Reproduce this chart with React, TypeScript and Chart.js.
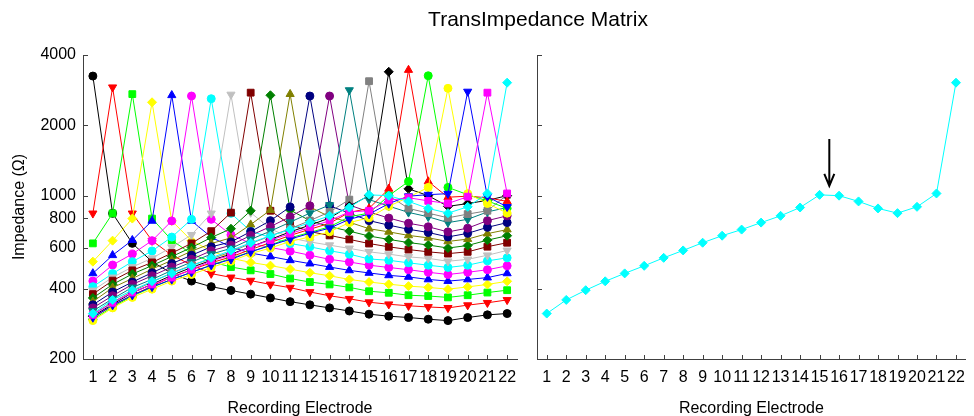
import React, { useEffect, useRef } from 'react';
import { Chart, registerables } from 'chart.js';

Chart.register(...registerables);

const ELECTRODES = [1, 2, 3, 4, 5, 6, 7, 8, 9, 10, 11, 12, 13, 14, 15, 16, 17, 18, 19, 20, 21, 22];
const Y_TICKS = [200, 400, 600, 800, 1000, 2000, 4000];
const TITLE = 'TransImpedance Matrix';
const X_TITLE = 'Recording Electrode';
const Y_TITLE = 'Impedance (\u03A9)';

// One series per stimulating electrode (impedance in ohms at each recording electrode)
const S1 = [3250, 840, 625, 522, 465, 431, 408, 393, 379, 365, 352, 341, 331, 321, 311, 305, 301, 296, 292, 301, 309, 313];
const S2 = [840, 2910, 840, 642, 556, 505, 464, 447, 433, 417, 404, 387, 373, 362, 350, 343, 338, 334, 331, 340, 348, 358];
const S3 = [625, 840, 2720, 798, 645, 563, 522, 495, 479, 462, 442, 427, 417, 405, 390, 384, 375, 372, 367, 375, 385, 394];
const S4 = [522, 642, 798, 2510, 780, 642, 580, 540, 518, 502, 485, 468, 454, 438, 427, 418, 410, 405, 398, 407, 417, 430];
const S5 = [465, 556, 645, 780, 2690, 780, 665, 602, 568, 549, 529, 512, 495, 479, 467, 456, 449, 438, 431, 438, 446, 465];
const S6 = [431, 505, 563, 642, 780, 2670, 792, 680, 625, 600, 579, 556, 534, 520, 504, 493, 482, 470, 460, 470, 482, 501];
const S7 = [408, 464, 522, 580, 665, 792, 2600, 840, 705, 662, 624, 604, 581, 562, 536, 529, 516, 504, 493, 504, 526, 542];
const S8 = [393, 447, 495, 540, 602, 680, 840, 2710, 846, 722, 660, 634, 614, 595, 575, 562, 547, 539, 524, 534, 556, 583];
const S9 = [379, 433, 479, 518, 568, 625, 705, 846, 2760, 862, 752, 702, 676, 650, 624, 604, 588, 575, 565, 575, 605, 629];
const S10 = [365, 417, 462, 502, 549, 600, 662, 722, 862, 2690, 868, 782, 737, 705, 672, 650, 630, 615, 597, 612, 645, 674];
const S11 = [352, 404, 442, 485, 529, 579, 624, 660, 752, 868, 2720, 895, 812, 770, 722, 700, 676, 660, 637, 652, 688, 716];
const S12 = [341, 387, 427, 468, 512, 556, 604, 634, 702, 782, 895, 2670, 905, 842, 782, 748, 718, 696, 666, 690, 732, 767];
const S13 = [331, 373, 417, 454, 495, 534, 581, 614, 676, 737, 812, 905, 2670, 912, 852, 802, 762, 736, 700, 726, 782, 820];
const S14 = [321, 362, 405, 438, 479, 520, 562, 595, 650, 705, 770, 842, 912, 2830, 962, 902, 848, 812, 767, 792, 852, 890];
const S15 = [311, 350, 390, 427, 467, 504, 536, 575, 624, 672, 722, 782, 852, 962, 3090, 1000, 882, 842, 804, 834, 862, 1008];
const S16 = [305, 343, 384, 418, 456, 493, 529, 562, 604, 650, 700, 748, 802, 902, 1000, 3390, 1070, 1000, 900, 925, 955, 1000];
const S17 = [301, 338, 375, 410, 449, 482, 516, 547, 588, 630, 676, 718, 762, 848, 882, 1070, 3450, 1150, 985, 995, 980, 945];
const S18 = [296, 334, 372, 405, 438, 470, 504, 539, 575, 615, 660, 696, 736, 812, 842, 1000, 1150, 3260, 1085, 1010, 950, 882];
const S19 = [292, 331, 367, 398, 431, 460, 493, 524, 565, 597, 637, 666, 700, 767, 804, 900, 985, 1085, 2880, 1020, 926, 842];
const S20 = [301, 340, 375, 407, 438, 470, 504, 534, 575, 612, 652, 690, 726, 792, 834, 925, 995, 1010, 1020, 2790, 990, 896];
const S21 = [309, 348, 385, 417, 446, 482, 526, 556, 605, 645, 688, 732, 782, 852, 862, 955, 980, 950, 926, 990, 2760, 1022];
const S22 = [313, 358, 394, 430, 465, 501, 542, 583, 629, 674, 716, 767, 820, 890, 1008, 1000, 945, 882, 842, 896, 1022, 3045];

const SERIES = [S1, S2, S3, S4, S5, S6, S7, S8, S9, S10, S11, S12, S13, S14, S15, S16, S17, S18, S19, S20, S21, S22];
const HIGHLIGHT = S22;

const COLORS = [
  '#000000', '#ff0000', '#00ff00', '#ffff00', '#0000ff', '#ff00ff', '#00ffff', '#c0c0c0',
  '#800000', '#008000', '#808000', '#000080', '#800080', '#008080', '#808080', '#000000',
  '#ff0000', '#00ff00', '#ffff00', '#0000ff', '#ff00ff', '#00ffff',
];
const MARKERS = [
  'circle', 'down', 'rect', 'rectRot', 'triangle', 'circle', 'circle', 'down',
  'rect', 'rectRot', 'triangle', 'circle', 'circle', 'down', 'rect', 'rectRot',
  'triangle', 'circle', 'circle', 'down', 'rect', 'rectRot',
];

// arrow annotation on right panel (data coords)
const ARROW_X = 15.5;
const ARROW_TOP = 1746;
const ARROW_TIP = 1102;

const FONT = '"Liberation Sans", Arial, sans-serif';
const AXIS_COLOR = '#404040';

function markerProps(kind: string) {
  switch (kind) {
    case 'down':
      return { pointStyle: 'triangle', pointRotation: 180, pointRadius: 4.7 };
    case 'triangle':
      return { pointStyle: 'triangle', pointRotation: 0, pointRadius: 4.7 };
    case 'rect':
      return { pointStyle: 'rect', pointRotation: 0, pointRadius: 4.8 };
    case 'rectRot':
      return { pointStyle: 'rectRot', pointRotation: 0, pointRadius: 4.5 };
    default:
      return { pointStyle: 'circle', pointRotation: 0, pointRadius: 4 };
  }
}

function makeDataset(values: number[], idx: number, total: number) {
  const c = COLORS[idx];
  return {
    data: ELECTRODES.map((e, i) => ({ x: e, y: values[i] })),
    borderColor: c,
    backgroundColor: c,
    borderWidth: 1,
    pointBackgroundColor: c,
    pointBorderColor: c,
    pointBorderWidth: 1,
    tension: 0,
    fill: false,
    order: total - idx,
    ...markerProps(MARKERS[idx]),
  };
}

function decorPlugin(opts: { yTitle: boolean; title: boolean; arrow: boolean }) {
  return {
    id: 'decor',
    afterDraw(chart: any) {
      const { ctx, chartArea: a, scales } = chart;
      const xs = scales.x;
      const ys = scales.y;
      ctx.save();
      ctx.strokeStyle = AXIS_COLOR;
      ctx.lineWidth = 1;
      ctx.beginPath();
      for (const v of Y_TICKS) {
        const y = Math.round(ys.getPixelForValue(v)) + 0.5;
        ctx.moveTo(a.left, y);
        ctx.lineTo(a.left + 5, y);
      }
      for (const e of ELECTRODES) {
        const x = Math.round(xs.getPixelForValue(e)) + 0.5;
        ctx.moveTo(x, a.bottom);
        ctx.lineTo(x, a.bottom - 4);
      }
      ctx.stroke();

      ctx.fillStyle = '#000';
      ctx.font = `16px ${FONT}`;
      ctx.textAlign = 'center';
      ctx.textBaseline = 'alphabetic';
      ctx.fillText(X_TITLE, (a.left + a.right) / 2, 413);

      if (opts.yTitle) {
        ctx.save();
        ctx.translate(23.5, (a.top + a.bottom) / 2);
        ctx.rotate(-Math.PI / 2);
        ctx.fillText(Y_TITLE, 0, 0);
        ctx.restore();
      }
      if (opts.title) {
        ctx.font = `21px ${FONT}`;
        ctx.fillText(TITLE, 538, 26);
      }
      if (opts.arrow) {
        const x = xs.getPixelForValue(ARROW_X);
        const y0 = ys.getPixelForValue(ARROW_TOP);
        const y1 = ys.getPixelForValue(ARROW_TIP);
        ctx.strokeStyle = '#000';
        ctx.lineWidth = 2;
        ctx.beginPath();
        ctx.moveTo(x, y0);
        ctx.lineTo(x, y1);
        ctx.moveTo(x - 5, y1 - 12);
        ctx.lineTo(x, y1);
        ctx.lineTo(x + 5, y1 - 12);
        ctx.stroke();
      }
      ctx.restore();
    },
  };
}

function makeOptions(showYLabels: boolean, yWidth: number, padRight: number) {
  return {
    responsive: false,
    maintainAspectRatio: false,
    animation: false,
    events: [],
    devicePixelRatio: 1,
    layout: { padding: { top: 55, right: padRight, bottom: 0, left: 0 } },
    plugins: { legend: { display: false }, tooltip: { enabled: false }, title: { display: false } },
    scales: {
      x: {
        type: 'linear',
        min: 0.5,
        max: 22.5,
        afterBuildTicks: (scale: any) => {
          scale.ticks = ELECTRODES.map((v) => ({ value: v }));
        },
        afterFit: (scale: any) => {
          scale.height = 57;
        },
        ticks: {
          autoSkip: false,
          maxRotation: 0,
          minRotation: 0,
          padding: 9,
          color: '#000',
          font: { family: FONT, size: 16 },
          callback: (v: any) => String(v),
        },
        grid: { display: true, drawOnChartArea: false, drawTicks: false },
        border: { display: true, color: AXIS_COLOR, width: 1 },
      },
      y: {
        type: 'logarithmic',
        min: 200,
        max: 4000,
        afterBuildTicks: (scale: any) => {
          scale.ticks = Y_TICKS.map((v) => ({ value: v }));
        },
        afterFit: (scale: any) => {
          scale.width = yWidth;
        },
        ticks: {
          display: showYLabels,
          autoSkip: false,
          padding: 7,
          color: '#000',
          font: { family: FONT, size: 16 },
          callback: (v: any) => String(v),
        },
        grid: { display: true, drawOnChartArea: false, drawTicks: false },
        border: { display: true, color: AXIS_COLOR, width: 1 },
      },
    },
  };
}

export default function App() {
  const leftRef = useRef<HTMLCanvasElement>(null);
  const rightRef = useRef<HTMLCanvasElement>(null);

  useEffect(() => {
    const charts: Chart[] = [];
    if (leftRef.current) {
      charts.push(
        new Chart(leftRef.current, {
          type: 'line',
          data: { datasets: SERIES.map((s, i) => makeDataset(s, i, SERIES.length)) as any },
          options: makeOptions(true, 83, 457) as any,
          plugins: [decorPlugin({ yTitle: true, title: true, arrow: false })],
        })
      );
    }
    if (rightRef.current) {
      charts.push(
        new Chart(rightRef.current, {
          type: 'line',
          data: { datasets: [makeDataset(HIGHLIGHT, 21, 22)] as any },
          options: makeOptions(false, 537, 2) as any,
          plugins: [decorPlugin({ yTitle: false, title: false, arrow: true })],
        })
      );
    }
    return () => charts.forEach((c) => c.destroy());
  }, []);

  const canvasStyle: React.CSSProperties = { position: 'absolute', left: 0, top: 0, width: 974, height: 416 };
  return (
    <div style={{ position: 'fixed', left: 0, top: 0, width: 974, height: 416, background: '#fff' }}>
      <canvas ref={leftRef} width={974} height={416} style={canvasStyle} />
      <canvas ref={rightRef} width={974} height={416} style={canvasStyle} />
    </div>
  );
}
